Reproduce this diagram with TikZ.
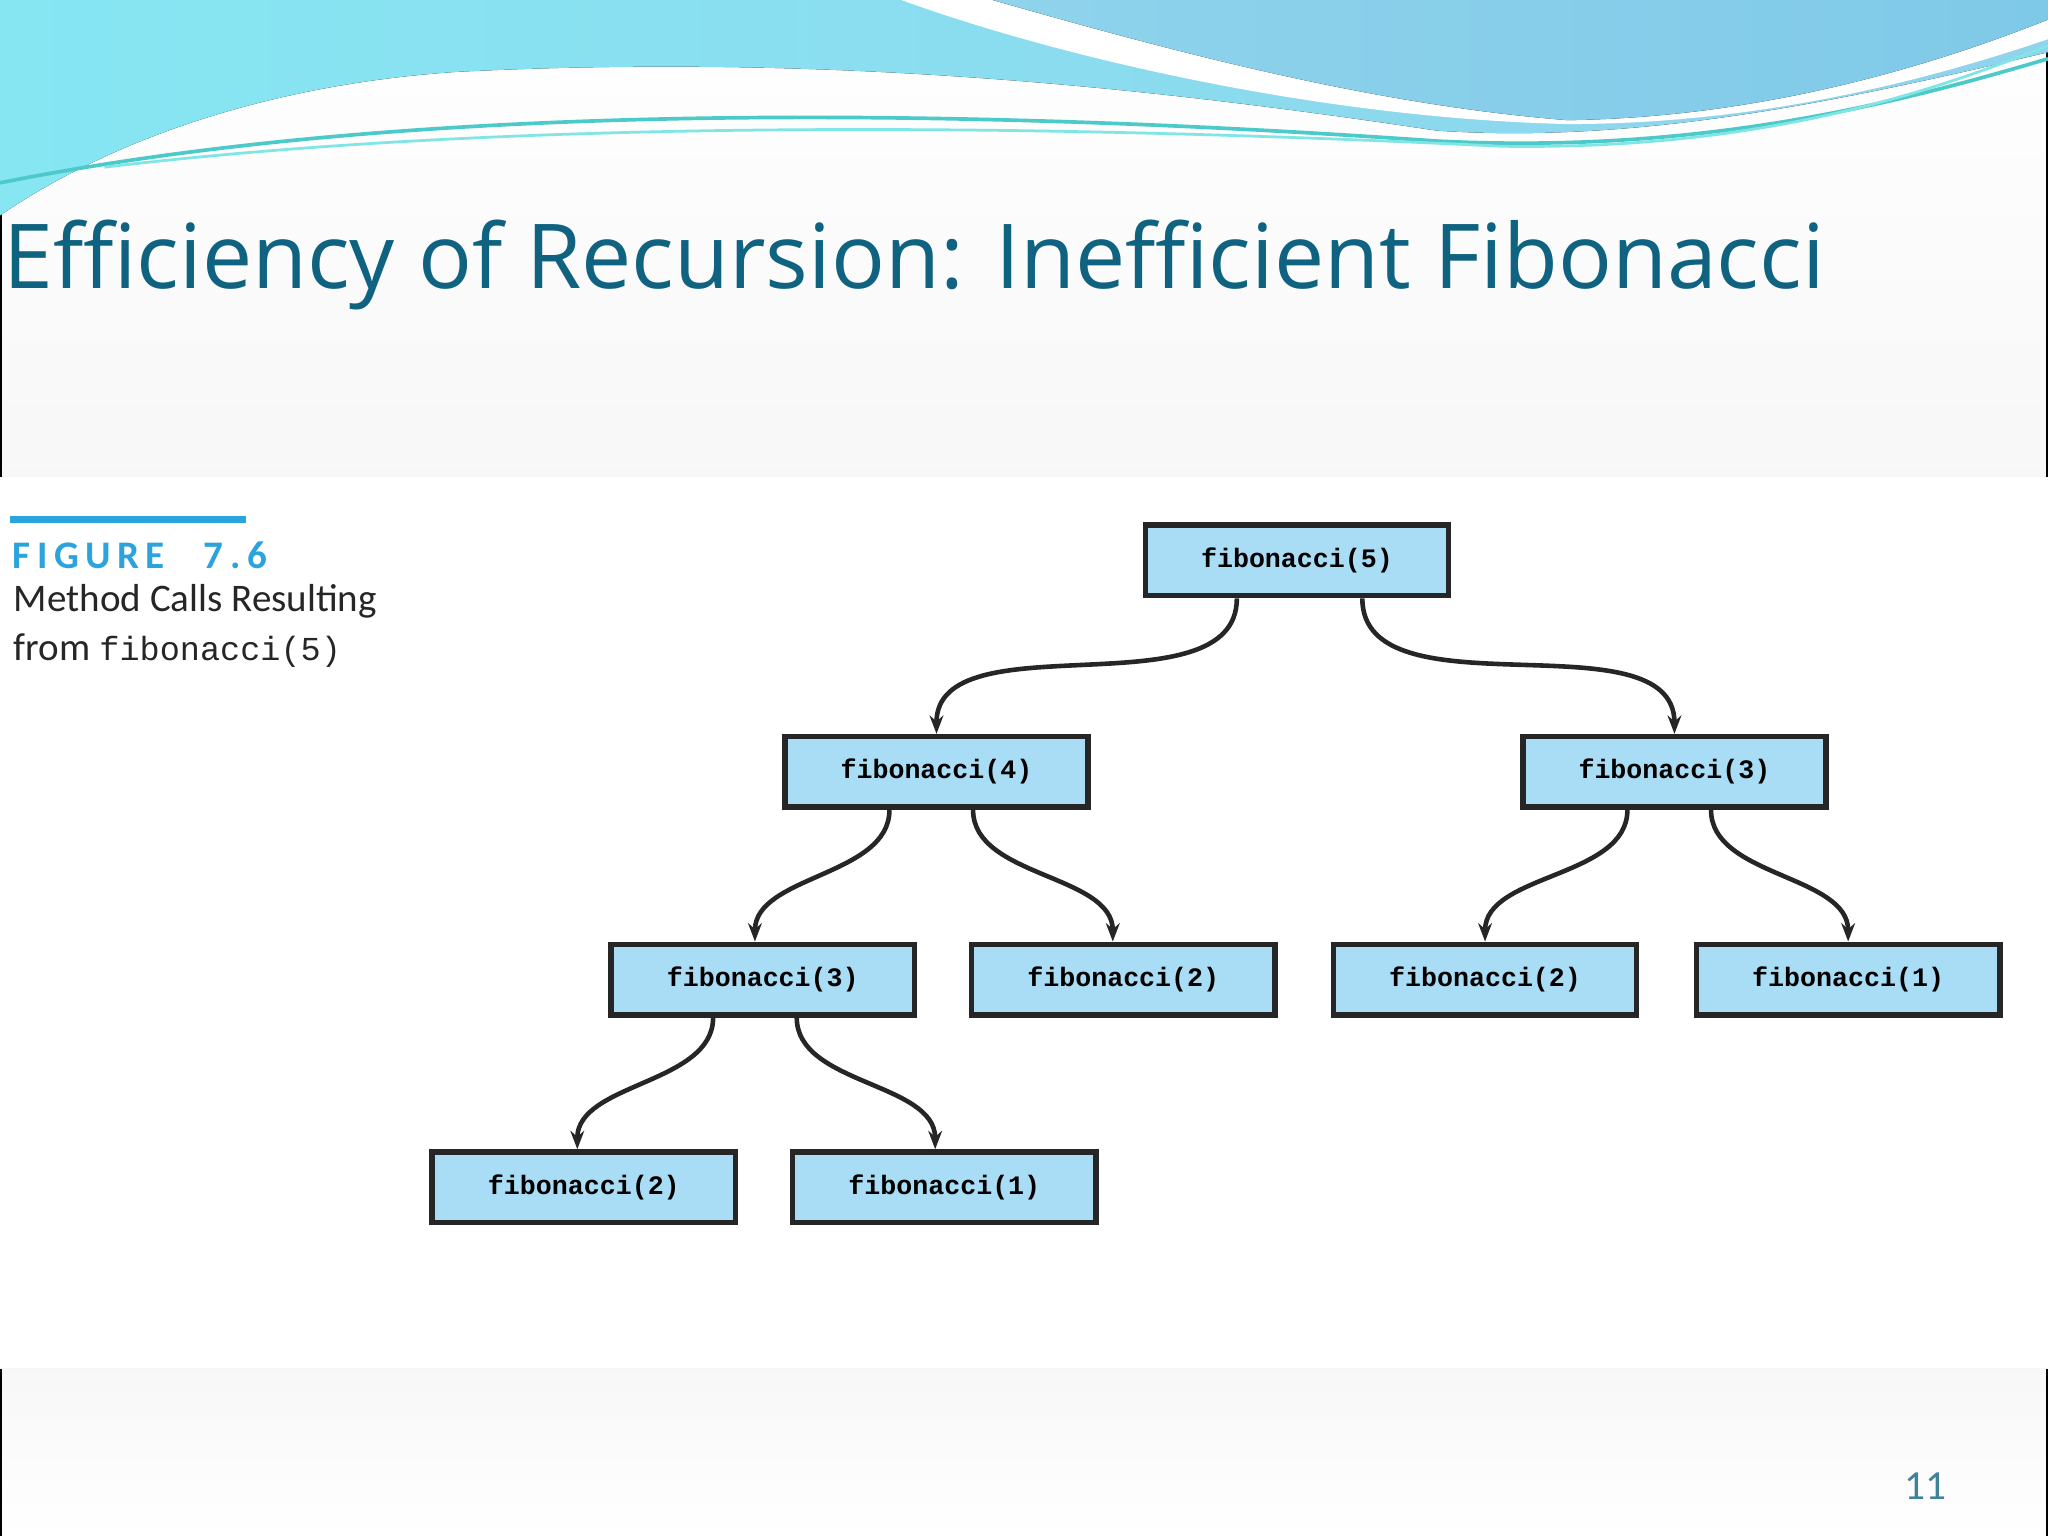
\documentclass[tikz,border=0pt]{standalone}
\usepackage{fontspec}
\setmainfont{Carlito}
\newfontfamily\monof{Liberation Mono}
\newfontfamily\titlef{Open Sans}
\usetikzlibrary{arrows.meta}
\definecolor{boxfill}{HTML}{A8DDF5}
\definecolor{titlec}{HTML}{0F6380}
\definecolor{figc}{HTML}{2BA3DC}
\definecolor{waveA}{HTML}{86E6F2}
\definecolor{waveB}{HTML}{8FD3EC}
\definecolor{waveC}{HTML}{7FC9E8}
\begin{document}
\begin{tikzpicture}[x=0.01cm,y=-0.01cm,
  call/.style={draw=black!85,line width=1.2pt,fill=boxfill,minimum width=2.32cm,minimum height=0.54cm,inner sep=0pt,font=\monof\bfseries\fontsize{5.8}{7}\selectfont},
  link/.style={draw=black!85,line width=1pt,-{Stealth[length=4pt,width=3pt]},out=-90,in=90,looseness=0.9}]
\useasboundingbox (0,0) rectangle (1568,1176);
% backgrounds
\fill[top color=white,bottom color=black!3] (0,0) rectangle (1568,365);
\fill[white] (0,365) rectangle (1568,1048);
\fill[top color=black!3,bottom color=white] (0,1048) rectangle (1568,1176);
\draw[black,line width=1pt] (0,0) -- (0,365) (0,1048) -- (0,1176) (1568,0) -- (1568,365) (1568,1048) -- (1568,1176);
% waves
\fill[left color=waveA,right color=waveB] (0,0) -- (1568,0) -- (1568,40) .. controls (1400,80) and (1250,110) .. (1100,100) .. controls (900,70) and (650,40) .. (350,55) .. controls (200,65) and (80,110) .. (0,165) -- cycle;
\fill[white] (690,0) .. controls (800,40) and (1000,90) .. (1200,95) .. controls (1350,95) and (1480,60) .. (1568,30) -- (1568,0) -- cycle;
\fill[left color=waveB,right color=waveC] (760,0) .. controls (900,40) and (1050,80) .. (1200,92) .. controls (1350,90) and (1480,50) .. (1568,15) -- (1568,0) -- cycle;
\draw[teal!60!cyan!70,line width=0.8pt] (0,140) .. controls (300,80) and (700,80) .. (1100,108) .. controls (1300,118) and (1450,80) .. (1568,45);
\draw[teal!40!cyan!50,line width=0.6pt] (80,128) .. controls (400,90) and (800,95) .. (1150,112) .. controls (1350,115) and (1480,70) .. (1568,35);
% title
\node[anchor=west,text=titlec,font=\titlef\fontsize{19.5}{23}\selectfont,inner sep=0pt] (title) at (2,203) {Efficiency of Recursion: Inefficient Fibonacci};
% caption
\draw[figc,line width=1.5pt] (8,398) -- (188,398);
\node[anchor=west,text=figc,font=\bfseries\fontsize{8.5}{10}\selectfont,inner sep=0pt] (fig) at (9,425) {F\,I\,G\,U\,R\,E\quad 7\,.\,6};
\node[anchor=north west,align=left,text=black!85,font=\fontsize{8.5}{10.5}\selectfont,inner sep=0pt] (cap) at (10,447) {Method Calls Resulting\\from {\monof\fontsize{7.3}{10.5}\selectfont fibonacci(5)}};
% nodes
\node[call] (f5) at (993,429) {fibonacci(5)};
\node[call] (f4) at (717,591) {fibonacci(4)};
\node[call] (f3r) at (1282,591) {fibonacci(3)};
\node[call] (f3) at (584,750) {fibonacci(3)};
\node[call] (f2a) at (860,750) {fibonacci(2)};
\node[call] (f2b) at (1137,750) {fibonacci(2)};
\node[call] (f1a) at (1415,750) {fibonacci(1)};
\node[call] (f2c) at (447,909) {fibonacci(2)};
\node[call] (f1b) at (723,909) {fibonacci(1)};
% links
\draw[link] ([xshift=-0.46cm]f5.south) to (f4.north);
\draw[link] ([xshift=0.5cm]f5.south) to (f3r.north);
\draw[link] ([xshift=-0.36cm]f4.south) to ([xshift=-0.06cm]f3.north);
\draw[link] ([xshift=0.28cm]f4.south) to ([xshift=-0.08cm]f2a.north);
\draw[link] ([xshift=-0.36cm]f3r.south) to (f2b.north);
\draw[link] ([xshift=0.28cm]f3r.south) to (f1a.north);
\draw[link] ([xshift=-0.38cm]f3.south) to ([xshift=-0.05cm]f2c.north);
\draw[link] ([xshift=0.26cm]f3.south) to ([xshift=-0.07cm]f1b.north);
% page number
\node[text=titlec!80,font=\fontsize{9}{10}\selectfont] (pg) at (1474,1138) {11};
\end{tikzpicture}
\end{document}
